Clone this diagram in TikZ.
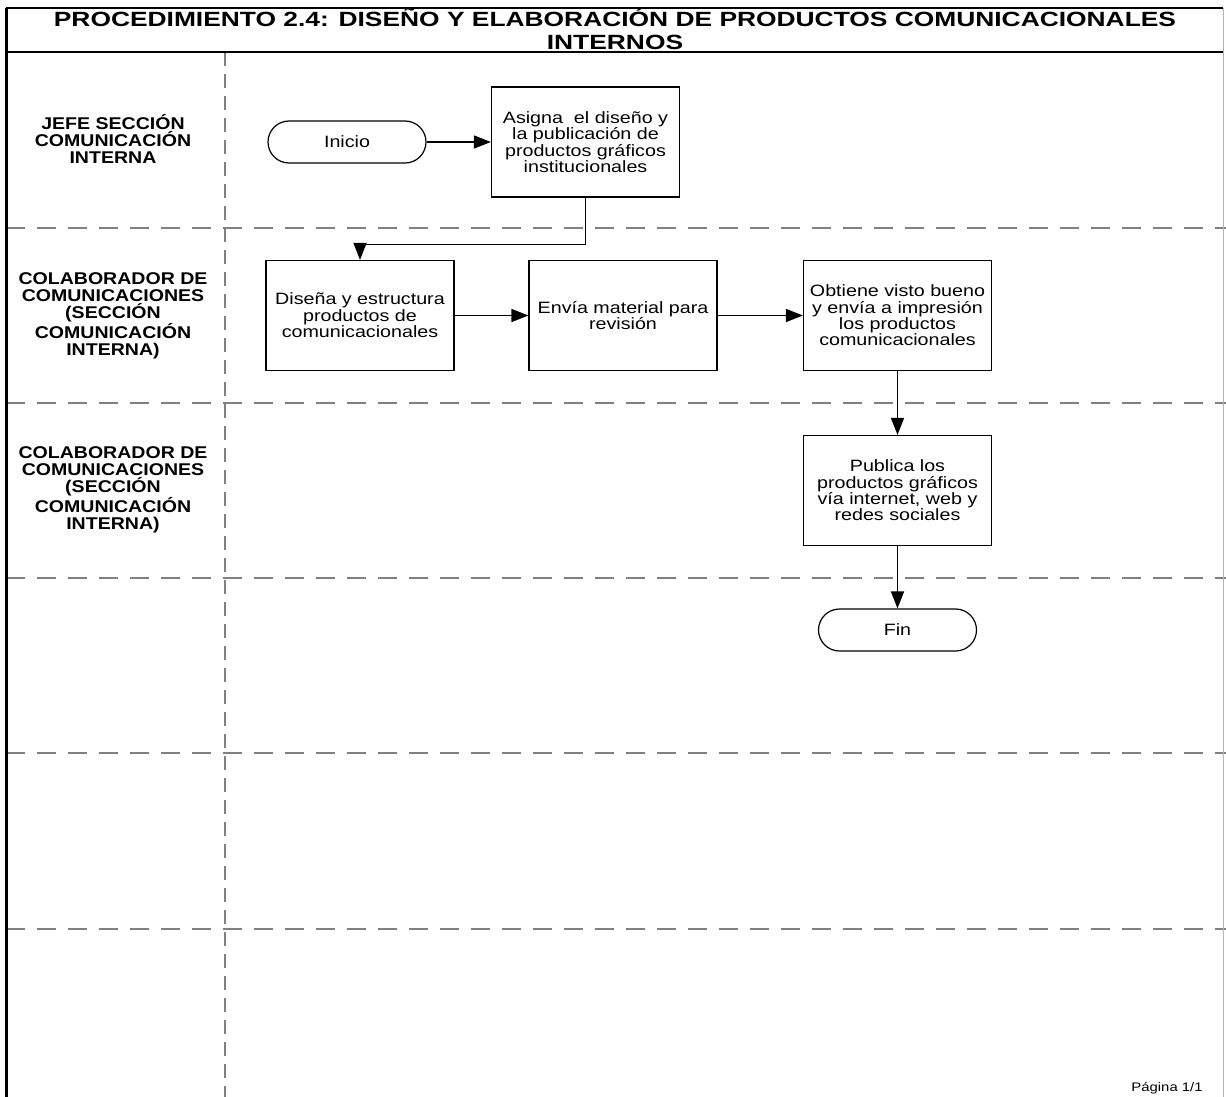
\documentclass[tikz,border=0pt]{standalone}
\usepackage{fontspec}
\setmainfont{Liberation Sans}
\newfontfamily\titlefont{Liberation Sans}[FakeStretch=1.28]
\newfontfamily\lanefont{Liberation Sans}[FakeStretch=1.15]
\newfontfamily\bodyfont{Liberation Sans}[FakeStretch=1.2]
\usetikzlibrary{arrows.meta}
\definecolor{lanegray}{HTML}{808080}
\definecolor{edgegray}{HTML}{B4B4B4}

\begin{document}
\begin{tikzpicture}[x=0.5pt,y=-0.5pt,
  lanedash/.style={draw=lanegray,line width=1pt,dash pattern=on 9.5pt off 6pt},
  colsep/.style={draw=lanegray,line width=1pt,dash pattern=on 7pt off 4pt},
  process/.style={draw,line width=0.6pt,minimum width=94pt,minimum height=55pt,
    inner sep=0pt,align=center,font=\bodyfont\fontsize{8.2}{8.2}\selectfont},
  terminal/.style={draw,line width=0.6pt,rounded corners=10.5pt,minimum width=79pt,
    minimum height=21pt,inner sep=0pt,font=\bodyfont\fontsize{8.2}{8.2}\selectfont},
  lanelabel/.style={align=center,font=\lanefont\bfseries\fontsize{8.5}{8.3}\selectfont},
  flow/.style={line width=0.75pt,-{Triangle[length=8.5pt,width=6.5pt]}}]

\useasboundingbox (0,0) rectangle (1226,1097);

% lane separators and the column separator
\foreach \ly in {228,403,578,753,929}
  \draw[lanedash] (6,\ly) -- (1226,\ly);
\draw[colsep] (225,52) -- (225,1097);

% page frame and title box
\draw[edgegray,line width=0.5pt] (1223,8) -- (1223,1097);
\draw[line width=1pt] (6,8) -- (1223,8);
\draw[line width=1pt] (6,52) -- (1223,52);
\draw[line width=1.5pt] (6,8) -- (6,1097);

\node[font=\titlefont\bfseries\fontsize{10.3}{11.5}\selectfont,align=center,inner sep=0pt]
  (title) at (615,28.5) {PROCEDIMIENTO 2.4: DISEÑO Y ELABORACIÓN DE PRODUCTOS COMUNICACIONALES\\INTERNOS};

% lane names
\node[lanelabel] (lane1) at (113,139) {JEFE SECCIÓN\\COMUNICACIÓN\\INTERNA};
\node[lanelabel] (lane2) at (113,316) {COLABORADOR DE\\COMUNICACIONES\\(SECCIÓN\\COMUNICACIÓN\\INTERNA)};
\node[lanelabel] (lane3) at (113,490) {COLABORADOR DE\\COMUNICACIONES\\(SECCIÓN\\COMUNICACIÓN\\INTERNA)};

% flow
\node[terminal] (inicio) at (347,142) {Inicio};
\node[process] (asigna) at (585.5,142) {Asigna\ \ el diseño y\\la publicación de\\productos gráficos\\institucionales};
\node[process] (disena) at (360,315.5) {Diseña y estructura\\productos de\\comunicacionales};
\node[process] (envia) at (623,315.5) {Envía material para\\revisión};
\node[process] (obtiene) at (897.5,315.5) {Obtiene visto bueno\\y envía a impresión\\los productos\\comunicacionales};
\node[process] (publica) at (897.5,490.5) {Publica los\\productos gráficos\\vía internet, web y\\redes sociales};
\node[terminal] (fin) at (897.5,630) {Fin};

\draw[flow] (inicio) -- (asigna);
\draw[flow] (asigna.south) -- ++(0,47) -| (disena.north);
\draw[flow] (disena) -- (envia);
\draw[flow] (envia) -- (obtiene);
\draw[flow] (obtiene) -- (publica);
\draw[flow] (publica) -- (fin);

\node[font=\bodyfont\fontsize{6.2}{7}\selectfont,anchor=base east,inner sep=0pt]
  (pagina) at (1203,1091) {Página 1/1};
\end{tikzpicture}
\end{document}
